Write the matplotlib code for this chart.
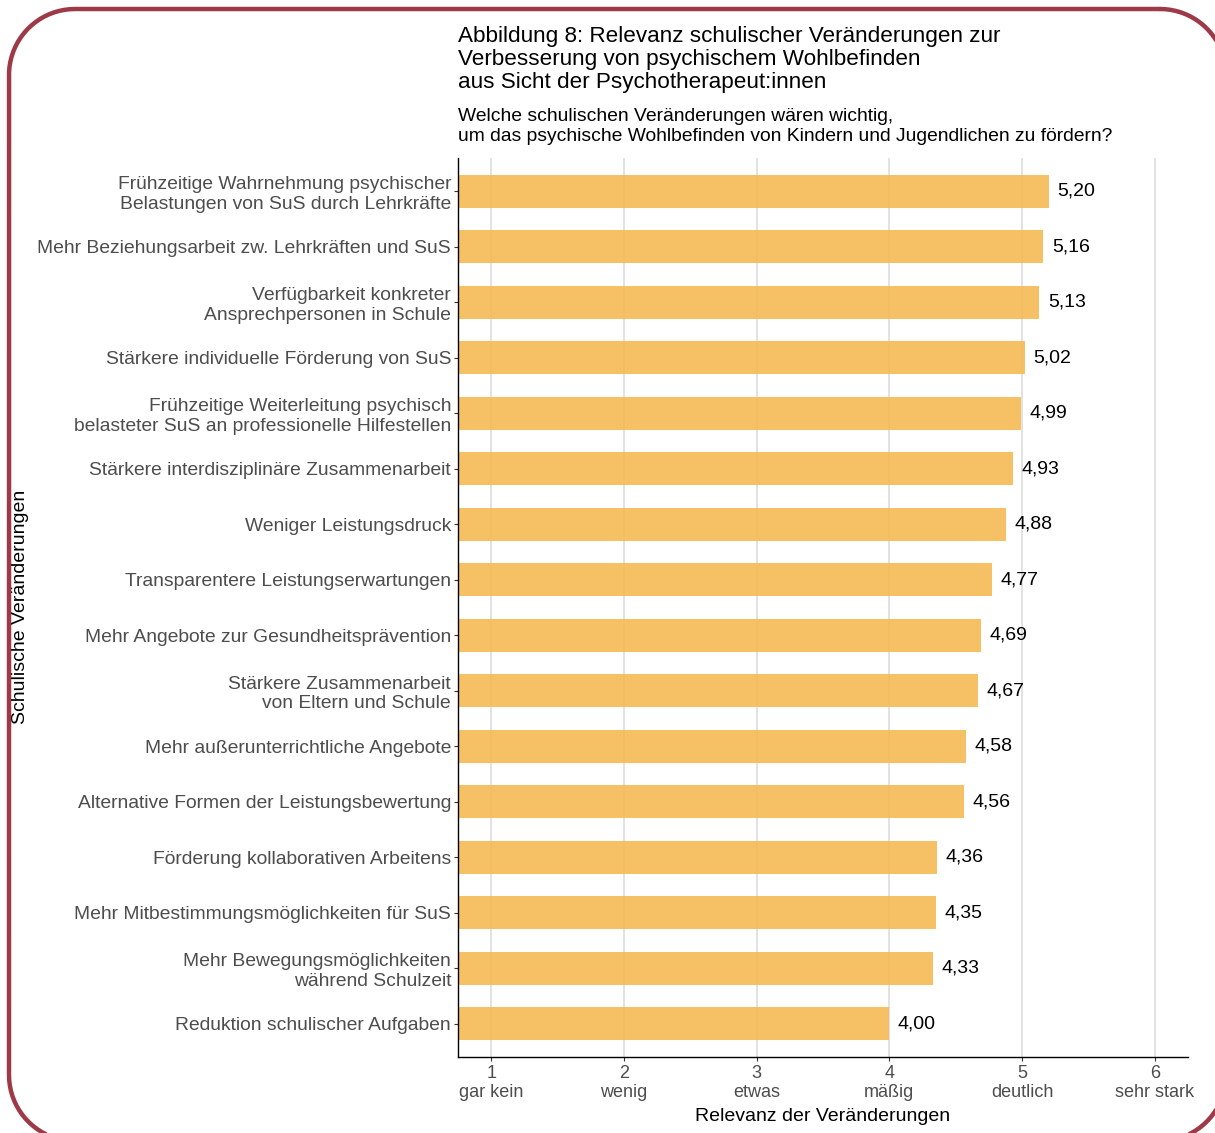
import matplotlib
matplotlib.use("Agg")
import numpy as np
import matplotlib.pyplot as plt

plt.rcParams['font.family'] = ['Liberation Sans', 'DejaVu Sans']

categories = [
    "Frühzeitige Wahrnehmung psychischer\nBelastungen von SuS durch Lehrkräfte",
    "Mehr Beziehungsarbeit zw. Lehrkräften und SuS",
    "Verfügbarkeit konkreter\nAnsprechpersonen in Schule",
    "Stärkere individuelle Förderung von SuS",
    "Frühzeitige Weiterleitung psychisch\nbelasteter SuS an professionelle Hilfestellen",
    "Stärkere interdisziplinäre Zusammenarbeit",
    "Weniger Leistungsdruck",
    "Transparentere Leistungserwartungen",
    "Mehr Angebote zur Gesundheitsprävention",
    "Stärkere Zusammenarbeit\nvon Eltern und Schule",
    "Mehr außerunterrichtliche Angebote",
    "Alternative Formen der Leistungsbewertung",
    "Förderung kollaborativen Arbeitens",
    "Mehr Mitbestimmungsmöglichkeiten für SuS",
    "Mehr Bewegungsmöglichkeiten\nwährend Schulzeit",
    "Reduktion schulischer Aufgaben",
]
values = [5.20, 5.16, 5.13, 5.02, 4.99, 4.93, 4.88, 4.77, 4.69, 4.67, 4.58, 4.56, 4.36, 4.35, 4.33, 4.00]
x_ticks = [1, 2, 3, 4, 5, 6]
x_ticklabels = ["1\ngar kein", "2\nwenig", "3\netwas", "4\nmäßig", "5\ndeutlich", "6\nsehr stark"]

W, H = 1215, 1133
fig = plt.figure(figsize=(W / 100, H / 100), dpi=100)

# decorative rounded frame, drawn as a polyline in pixel coordinates
bg = fig.add_axes([0, 0, 1, 1])
bg.set_xlim(0, W)
bg.set_ylim(H, 0)
bg.axis("off")
fx0, fx1, fy0, fy1, r = 9, 1226, 9, 1141, 66
corners = [((fx1 - r, fy0 + r), -90, 0), ((fx1 - r, fy1 - r), 0, 90),
           ((fx0 + r, fy1 - r), 90, 180), ((fx0 + r, fy0 + r), 180, 270)]
px, py = [], []
for (cx, cy), a0, a1 in corners:
    t = np.radians(np.linspace(a0, a1, 40))
    px.extend(cx + r * np.cos(t))
    py.extend(cy + r * np.sin(t))
px.append(px[0]); py.append(py[0])
bg.plot(px, py, color="#9E3A48", linewidth=3.2, solid_capstyle="round", clip_on=False)

left, right, top, bottom = 458, 1188, 158, 1057
ax = fig.add_axes([left / W, 1 - bottom / H, (right - left) / W, (bottom - top) / H])

n = len(categories)
ypos = list(range(n))
ax.barh(ypos, values, height=0.6, left=0, color="#F5B94F", alpha=0.88, zorder=2)
for y, v in zip(ypos, values):
    ax.text(v + 0.065, y, f"{v:.2f}".replace(".", ","), va="center", ha="left",
            fontsize=14, color="black", zorder=3)

ax.set_xlim(0.75, 6.25)
ax.set_ylim(n - 0.4, -0.6)
ax.set_yticks(ypos)
ax.set_yticklabels(categories, fontsize=13.9, color="#4D4D4D", linespacing=1.2)
ax.set_xticks(x_ticks)
ax.set_xticklabels(x_ticklabels, fontsize=13, color="#4D4D4D", linespacing=1.15)
ax.tick_params(axis="y", length=3, color="#333333", pad=2)
ax.tick_params(axis="x", length=3, color="#333333", pad=3)
ax.grid(axis="x", color="#DADADA", linewidth=1.1, zorder=0)
ax.set_axisbelow(True)
for s in ["top", "right"]:
    ax.spines[s].set_visible(False)
for s in ["left", "bottom"]:
    ax.spines[s].set_color("black")
    ax.spines[s].set_linewidth(1.0)

ax.set_xlabel("Relevanz der Veränderungen", fontsize=14, color="black", labelpad=5)

fig.text(21 / W, 1 - 607 / H, "Schulische Veränderungen", rotation=90,
         ha="center", va="center", fontsize=14, color="black")

fig.text(left / W, 1 - 26 / H,
         "Abbildung 8: Relevanz schulischer Veränderungen zur\nVerbesserung von psychischem Wohlbefinden\naus Sicht der Psychotherapeut:innen",
         ha="left", va="top", fontsize=16.2, color="black", linespacing=1.14)
fig.text(left / W, 1 - 108 / H,
         "Welche schulischen Veränderungen wären wichtig,\num das psychische Wohlbefinden von Kindern und Jugendlichen zu fördern?",
         ha="left", va="top", fontsize=13.9, color="black", linespacing=1.22)

fig.savefig("out.png", dpi=100)
